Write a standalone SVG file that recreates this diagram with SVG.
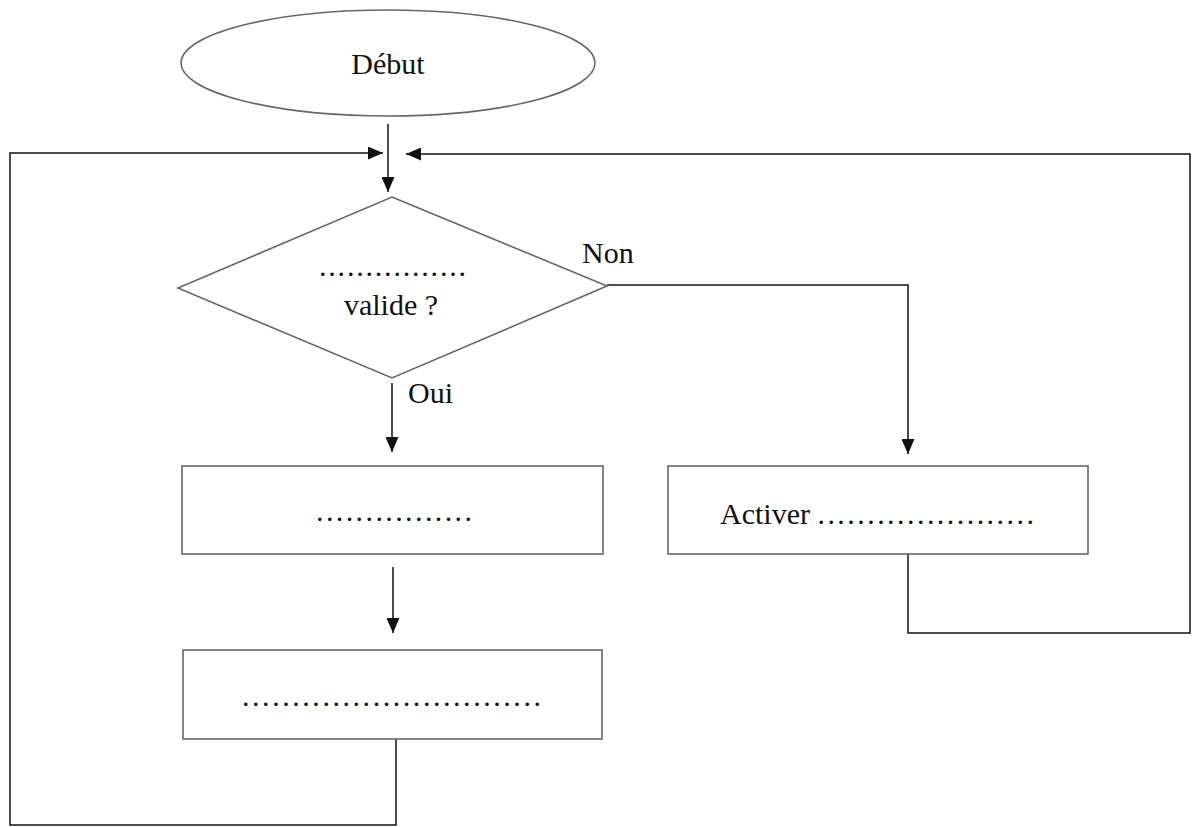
<svg xmlns="http://www.w3.org/2000/svg" width="1194" height="827" viewBox="0 0 1194 827">
  <defs>
    <marker id="arrow" markerUnits="userSpaceOnUse" markerWidth="15" markerHeight="13" refX="15" refY="6.5" orient="auto">
      <path d="M0,0 L15,6.5 L0,13 z" fill="#111"/>
    </marker>
    <style>
      .shape { fill: #fff; stroke: #666; stroke-width: 1.6; }
      .conn { fill: none; stroke: #111; stroke-width: 1.5; marker-end: url(#arrow); }
      .lbl { font-family: "Liberation Serif", "Times New Roman", serif; font-size: 30px; fill: #111; }
      .dots { font-family: "Liberation Serif", "Times New Roman", serif; font-size: 30px; fill: #111; }
    </style>
  </defs>
  <rect width="1194" height="827" fill="#fff"/>

  <g id="connectors">
    <path class="conn" d="M388 124 V192"/>
    <path class="conn" d="M396 739 V825 H10 V153 H383"/>
    <path class="conn" d="M908 554 V633 H1190 V154 H406"/>
    <path class="conn" d="M607 285 H908 V454"/>
    <path class="conn" d="M392 383 V452"/>
    <path class="conn" d="M393 567 V633"/>
  </g>

  <g id="debut">
    <ellipse class="shape" cx="388" cy="63" rx="207" ry="53"/>
    <text class="lbl" x="388" y="74" text-anchor="middle">Début</text>
  </g>

  <g id="decision">
    <polygon class="shape" points="392,197 607,286 392,378 178,288"/>
    <text class="dots" x="319" y="276" letter-spacing="1.8">................</text>
    <text class="lbl" x="391" y="315" text-anchor="middle">valide ?</text>
  </g>

  <g id="label-non">
    <text class="lbl" x="582" y="263">Non</text>
  </g>
  <g id="label-oui">
    <text class="lbl" x="408" y="403">Oui</text>
  </g>

  <g id="action1">
    <rect class="shape" x="182" y="466" width="421" height="88"/>
    <text class="dots" x="316" y="521" letter-spacing="2.4">................</text>
  </g>

  <g id="action2">
    <rect class="shape" x="183" y="650" width="419" height="89"/>
    <text class="dots" x="242" y="706" letter-spacing="2.55">..............................</text>
  </g>

  <g id="activer">
    <rect class="shape" x="668" y="466" width="420" height="88"/>
    <text class="lbl" x="720" y="524">Activer <tspan letter-spacing="2.45">......................</tspan></text>
  </g>
</svg>
